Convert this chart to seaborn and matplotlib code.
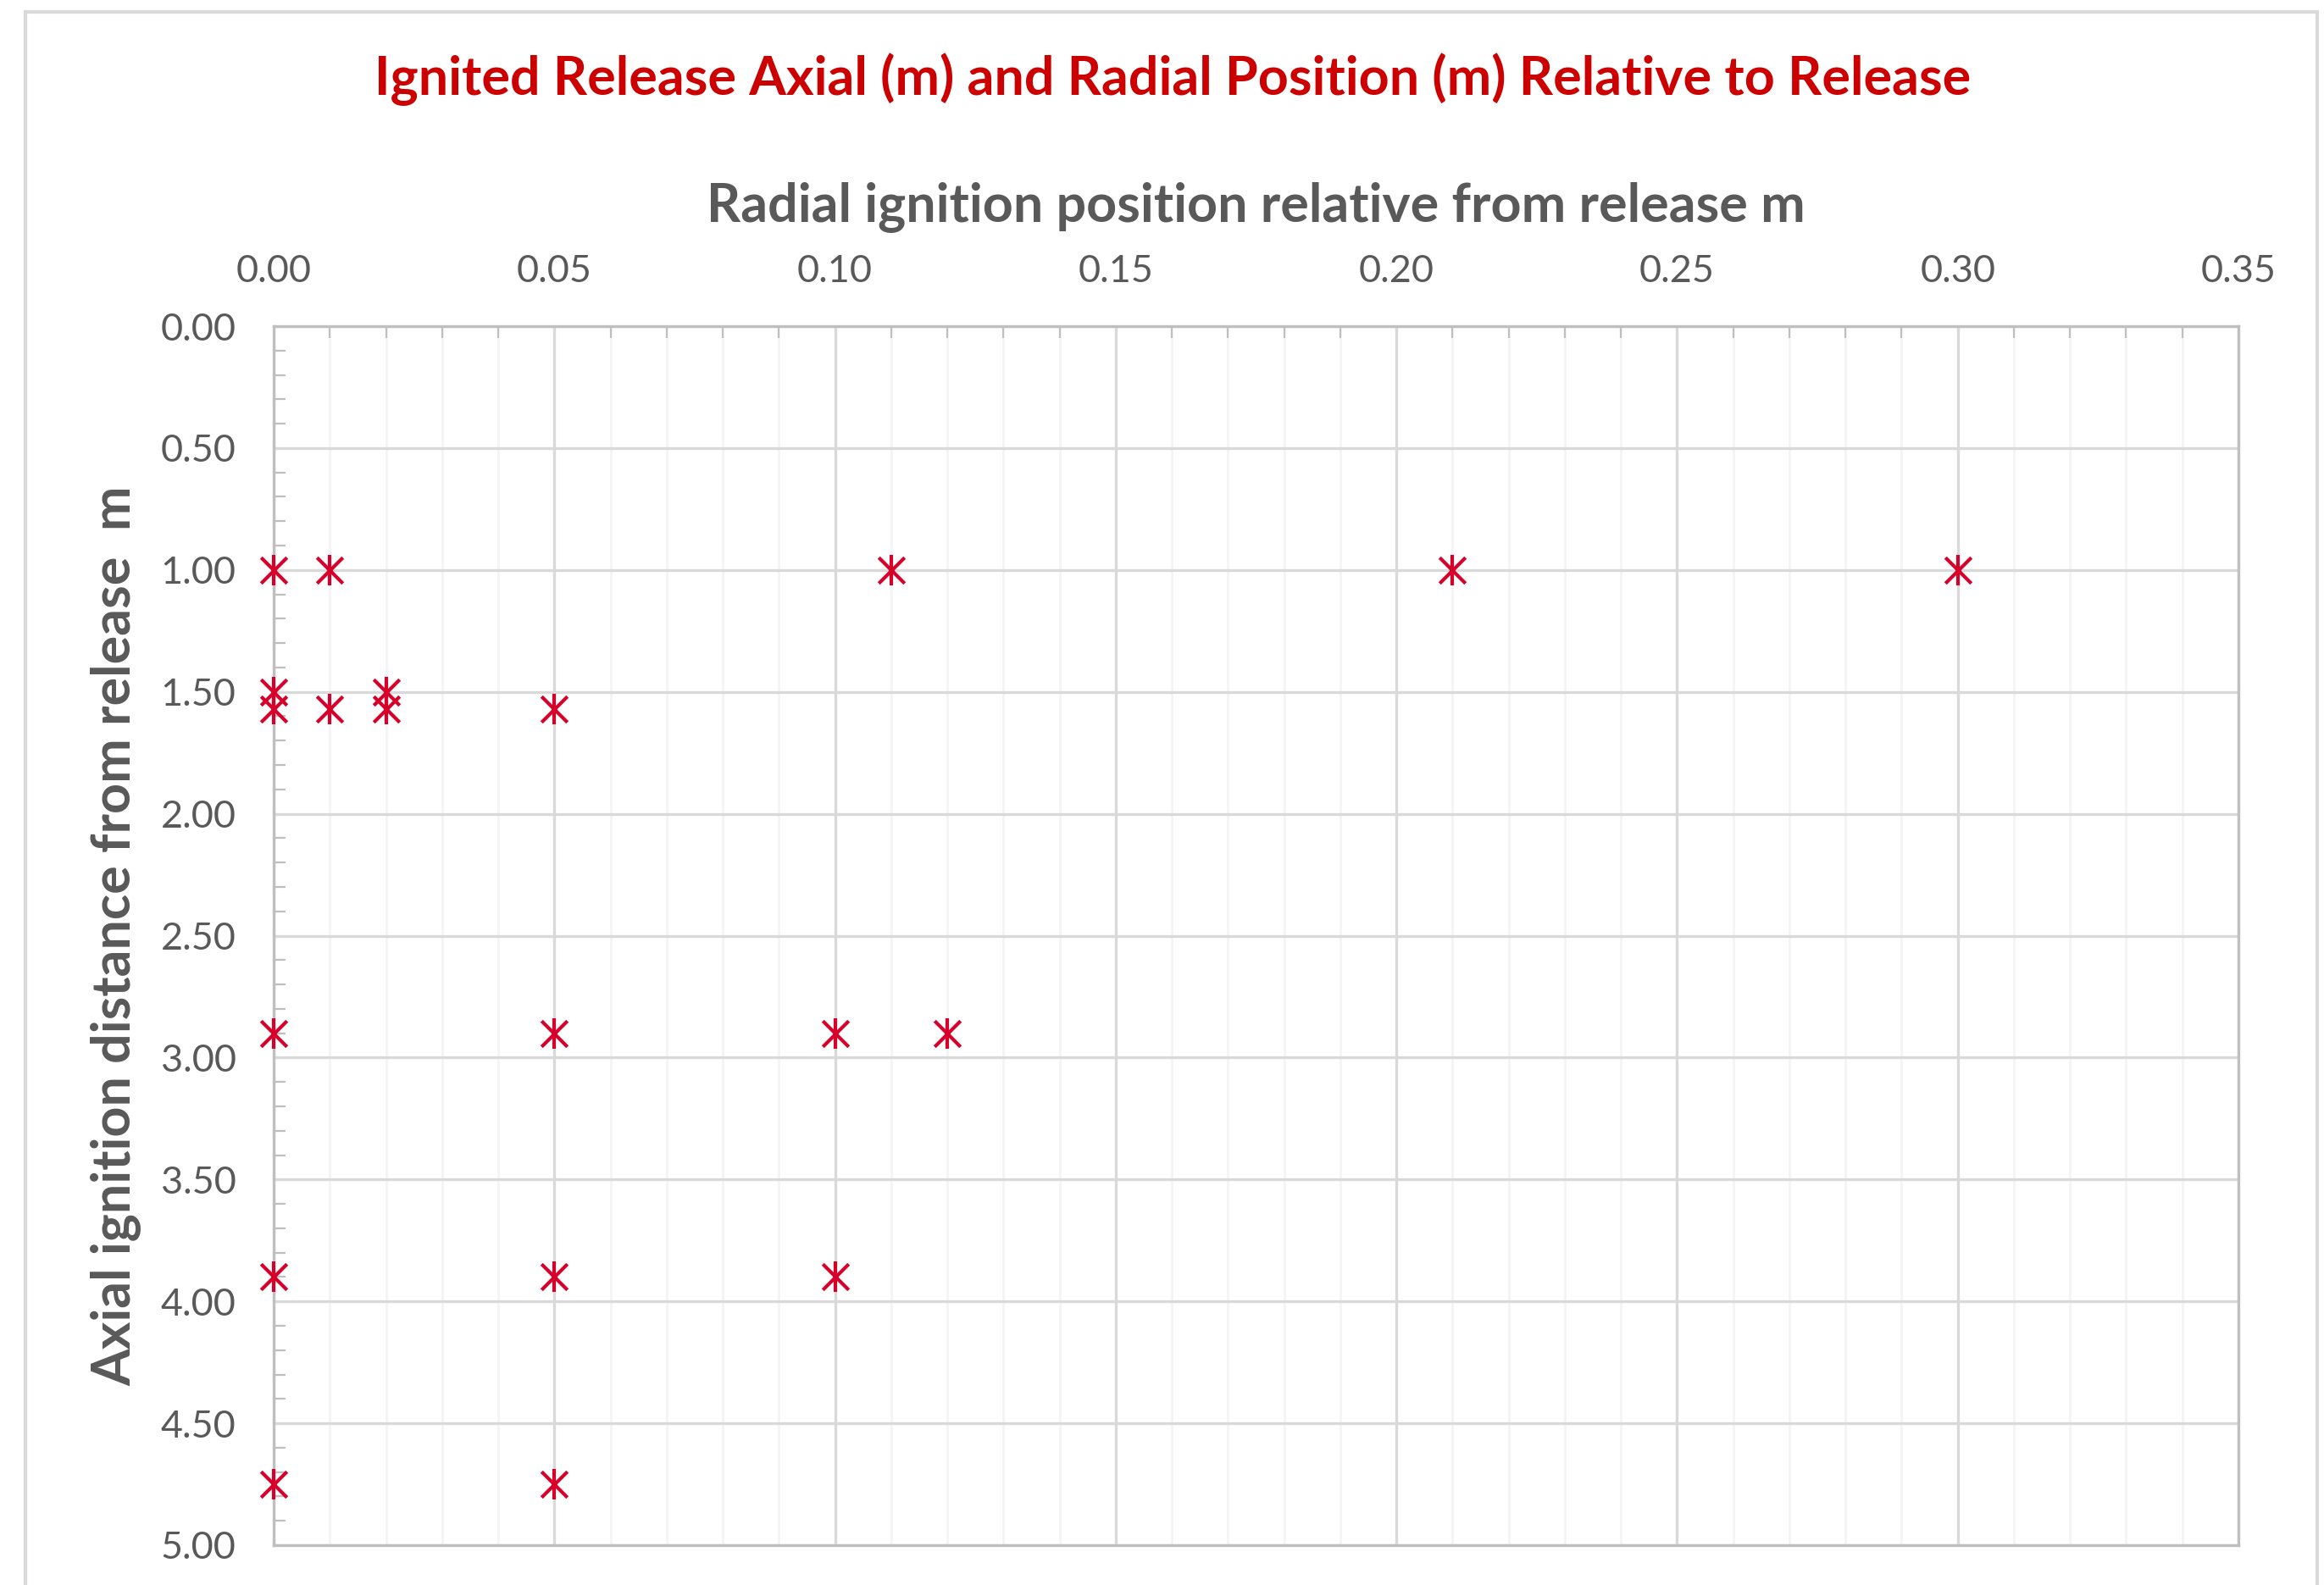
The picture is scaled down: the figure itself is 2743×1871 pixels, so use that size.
import numpy as np
import pandas as pd
import matplotlib
matplotlib.use("Agg")
import matplotlib.pyplot as plt
from matplotlib.ticker import MultipleLocator, FormatStrFormatter
from matplotlib.patches import Rectangle
import seaborn as sns

# ---- data ----
radial_m = [0.00, 0.01, 0.11, 0.21, 0.30,
            0.00, 0.00, 0.01, 0.02, 0.02, 0.05,
            0.00, 0.05, 0.10, 0.12,
            0.00, 0.05, 0.10,
            0.00, 0.05]
axial_m = [1.00, 1.00, 1.00, 1.00, 1.00,
           1.50, 1.57, 1.57, 1.50, 1.57, 1.57,
           2.90, 2.90, 2.90, 2.90,
           3.90, 3.90, 3.90,
           4.75, 4.75]

title_text = "Ignited Release Axial (m) and Radial Position (m) Relative to Release"
x_label = "Radial ignition position relative from release m"
y_label = "Axial ignition distance from release  m"

df = pd.DataFrame({"radial": radial_m, "axial": axial_m})

sns.set_theme(style="white")
plt.rcParams["font.family"] = ["Lato", "DejaVu Sans"]

W, H = 2743, 1871
DPI = 200
fig = plt.figure(figsize=(W / DPI, H / DPI), dpi=DPI)
fig.patch.set_facecolor("white")

# outer chart-area border
fig.patches.append(Rectangle((30 / W, -0.02), (2735 - 30) / W, 1.02 - 14 / H,
                             transform=fig.transFigure, fill=False,
                             edgecolor="#D9D9D9", lw=1.5, zorder=0))

ax_l, ax_r, ax_t, ax_b = 323, 2642, 385, 1824
ax = fig.add_axes([ax_l / W, 1 - ax_b / H, (ax_r - ax_l) / W, (ax_b - ax_t) / H])

mcol = "#D6002A"
sns.scatterplot(data=df, x="radial", y="axial", marker="x", s=120, color=mcol,
                linewidth=1.5, ax=ax, zorder=5, legend=False, clip_on=False)
sns.scatterplot(data=df, x="radial", y="axial", marker="|", s=160, color=mcol,
                linewidth=1.5, ax=ax, zorder=5, legend=False, clip_on=False)

ax.set_xlim(0, 0.35)
ax.set_ylim(5.0, 0.0)
ax.xaxis.set_major_locator(MultipleLocator(0.05))
ax.xaxis.set_minor_locator(MultipleLocator(0.01))
ax.yaxis.set_major_locator(MultipleLocator(0.5))
ax.yaxis.set_minor_locator(MultipleLocator(0.1))
ax.xaxis.set_major_formatter(FormatStrFormatter("%.2f"))
ax.yaxis.set_major_formatter(FormatStrFormatter("%.2f"))

ax.xaxis.tick_top()
ax.xaxis.set_label_position("top")

ax.set_axisbelow(True)
ax.grid(which="major", color="#D9D9D9", lw=1.2)
ax.xaxis.grid(which="minor", color="#F4F4F4", lw=1.0)
ax.yaxis.grid(which="minor", visible=False)

tick_col = "#595959"
ax.tick_params(axis="x", which="major", top=True, bottom=False, length=0, pad=16,
               labelsize=16.2, labelcolor=tick_col)
ax.tick_params(axis="y", which="major", left=True, length=0, pad=16,
               labelsize=16.2, labelcolor=tick_col)
ax.tick_params(axis="x", which="minor", top=True, bottom=False, direction="in",
               length=5, width=0.8, color="#BFBFBF")
ax.tick_params(axis="y", which="minor", left=True, right=False, direction="in",
               length=5, width=0.8, color="#BFBFBF")

for sp in ax.spines.values():
    sp.set_color("#BFBFBF")
    sp.set_linewidth(1.2)

ax.set_xlabel(x_label, fontsize=22.6, fontweight="bold", color=tick_col)
ax.set_ylabel(y_label, fontsize=22.6, fontweight="bold", color=tick_col)
ax.xaxis.set_label_coords(0.5, (ax_b - 244) / (ax_b - ax_t))
ax.xaxis.label.set_verticalalignment("center")
ax.yaxis.set_label_coords((136 - ax_l) / (ax_r - ax_l), 0.5)
ax.yaxis.label.set_verticalalignment("center")

fig.text(1384 / W, 1 - 94 / H, title_text, ha="center", va="center",
         fontsize=22.6, fontweight="bold", color="#CC0000")

fig.savefig("out.png", dpi=DPI, facecolor="white")
